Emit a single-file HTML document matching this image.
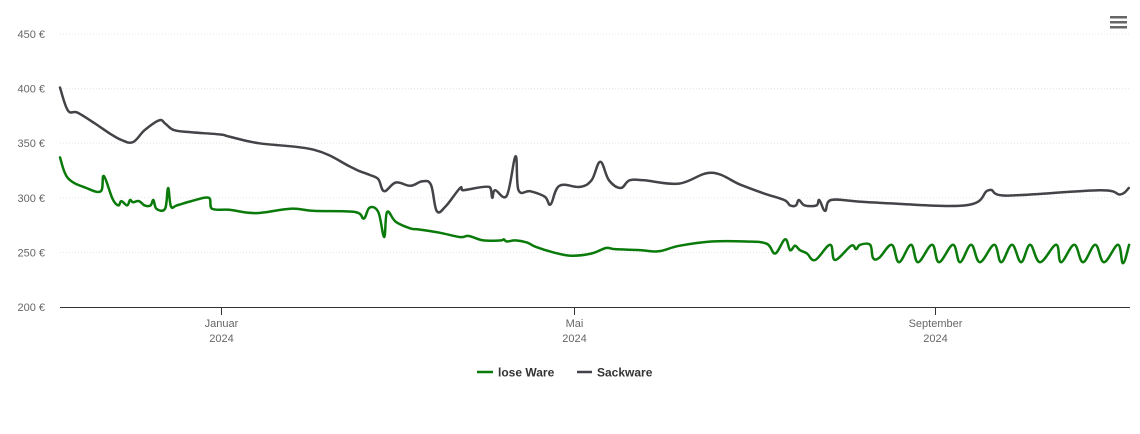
<!DOCTYPE html>
<html><head><meta charset="utf-8">
<style>
html,body{margin:0;padding:0;background:#fff;}
svg{display:block;font-family:"Liberation Sans",sans-serif;}
</style></head>
<body>
<svg id="chart" width="1140" height="434" viewBox="0 0 1140 434" xmlns="http://www.w3.org/2000/svg">
  <g id="grid"></g>
  <g id="yaxis"></g>
  <g id="xaxis"></g>
  <g id="series"></g>
  <g>
    <rect x="1110" y="16" width="17" height="2.5" fill="#666"/>
    <rect x="1110" y="21" width="17" height="2.5" fill="#666"/>
    <rect x="1110" y="26" width="17" height="2.5" fill="#666"/>
  </g>
  <g>
    <g>
      <line x1="477" y1="372" x2="493" y2="372" stroke="#0a7a0a" stroke-width="2.5"/>
      <text x="498" y="376.5" font-size="12" font-weight="bold" fill="#333">lose Ware</text>
    </g>
    <g>
      <line x1="577" y1="372" x2="592" y2="372" stroke="#434348" stroke-width="2.5"/>
      <text x="597" y="376.5" font-size="12" font-weight="bold" fill="#333">Sackware</text>
    </g>
  </g>
</svg>
<script>
// Days since start of chart (≈ 7 Nov 2023), values in €
const yTicks = [200, 250, 300, 350, 400, 450];
const xTickDays = [55.1, 176, 299.7];
const xTickLabels = ["Januar", "Mai", "September"];
const xTickYears = ["2024", "2024", "2024"];

const sackDays = [0,2.7,6,12,17,21,25,29,34,36,39,45,55,58,68,87,99,102,106,109,111,115,120,124,127,129,132,137,138,147,148,149,153,156,157,161,166,168,171,178,182,185,188,192,195,200,212,223,233,241,248,250,252,253,255,259,260,262,264,277,310,318,324,356,363,366];
const sackVals = [401,380,378,368,359,353,351,362,371,368,362,360,358,356,350,344,329,325,321,317,306,314,311,315,312,288,292,309,307,310,300,307,302,338,307,306,301,294,311,310,316,333,316,309,316,316,313,323,312,304,298,293,293,298,293,293,298,288,298,296,293,307,302,307,303,309];

const loseDays = [0,2.7,9,14,15,18,20,21,23,24,25,27,29,31,32,33,36,37,38,40,45,51,52,58,67,79,87,101,104,106,109,111,112,115,120,123,130,137,140,145,151,152,153,156,160,163,169,175,182,187,190,199,205,212,223,235,242,244.9,248.3,250,251.7,253.4,255.8,258.6,263.7,265.4,270.9,272.6,274,277.4,278.4,280.5,284.8,287.3,291.4,293.8,298.6,301,305.8,308.2,312,315,319.9,322.3,326,329.1,332.2,335.6,341.1,342.8,347.3,350.3,354.5,357.5,362.3,364,366.1];
const loseVals = [337,318,309,306,320,299,293,297,293,298,296,297,293,293,298,290,290,309,292,293,297,300,290,289,286,290,288,287,281,291,287,264,287,278,272,271,268,264,265,261,261,262,260,261,259,255,250,247,249,254,253,252,251,256,260,260,258,249,262,252,256,252,249,243,257,243,256,253,257,257,245,245,257,241,257,241,257,241,257,241,257,241,257,241,257,241,257,241,257,241,257,241,257,241,257,240,257];

const X0 = 60, X1 = 1130, DMAX = 366.4;
const Y0 = 307, Y1 = 34, VMIN = 200, VMAX = 450;
const xs = d => X0 + (d / DMAX) * (X1 - X0);
const ys = v => Y0 - (v - VMIN) / (VMAX - VMIN) * (Y0 - Y1);
const NS = "http://www.w3.org/2000/svg";
function mk(tag, attrs, parent) {
  const e = document.createElementNS(NS, tag);
  for (const k in attrs) e.setAttribute(k, attrs[k]);
  parent.appendChild(e);
  return e;
}
const grid = document.getElementById('grid');
const yaxis = document.getElementById('yaxis');
yTicks.forEach(v => {
  if (v !== VMIN) {
    const gl = mk('line', {x1: X0, x2: X1, y1: ys(v), y2: ys(v), stroke: '#e6e6e6', 'stroke-width': 1, 'stroke-dasharray': '1,2'}, grid);
    
    
  }
  const t = mk('text', {x: 45, y: ys(v) + 4, 'text-anchor': 'end', 'font-size': 11, fill: '#666'}, yaxis);
  
  
  t.textContent = v + ' €';
});
const xaxis = document.getElementById('xaxis');
const al = mk('line', {x1: X0, x2: X1, y1: Y0 + 0.5, y2: Y0 + 0.5, stroke: '#333', 'stroke-width': 1}, xaxis);


xTickDays.forEach((d, i) => {
  const x = Math.round(xs(d)) + 0.5;
  const tk = mk('line', {x1: x, x2: x, y1: Y0, y2: Y0 + 8, stroke: '#333', 'stroke-width': 1}, xaxis);
  
  
  const t = mk('text', {x: x, y: 327, 'text-anchor': 'middle', 'font-size': 11, fill: '#666'}, xaxis);
  
  
  t.textContent = xTickLabels[i];
  const t2 = mk('text', {x: x, y: 342, 'text-anchor': 'middle', 'font-size': 11, fill: '#666'}, xaxis);
  
  
  t2.textContent = xTickYears[i];
});
function pathFor(days, vals) {
  const p = days.map((d, i) => [xs(d), ys(vals[i])]);
  let s = 'M' + p[0][0].toFixed(1) + ',' + p[0][1].toFixed(1);
  const k = 0.18;
  for (let i = 0; i < p.length - 1; i++) {
    const a = p[i - 1] || p[i], b = p[i], c = p[i + 1], e = p[i + 2] || c;
    const c1 = [b[0] + (c[0] - a[0]) * k, b[1] + (c[1] - a[1]) * k];
    const c2 = [c[0] - (e[0] - b[0]) * k, c[1] - (e[1] - b[1]) * k];
    c1[0] = Math.min(Math.max(c1[0], b[0]), c[0]);
    c2[0] = Math.min(Math.max(c2[0], b[0]), c[0]);
    s += ' C' + c1[0].toFixed(1) + ',' + c1[1].toFixed(1) + ' ' + c2[0].toFixed(1) + ',' + c2[1].toFixed(1) + ' ' + c[0].toFixed(1) + ',' + c[1].toFixed(1);
  }
  return s;
}
const series = document.getElementById('series');
const l1 = mk('path', {d: pathFor(sackDays, sackVals), fill: 'none', stroke: '#434348', 'stroke-width': 2.5, 'stroke-linejoin': 'round', 'stroke-linecap': 'round'}, series);


const l2 = mk('path', {d: pathFor(loseDays, loseVals), fill: 'none', stroke: '#0a7a0a', 'stroke-width': 2.5, 'stroke-linejoin': 'round', 'stroke-linecap': 'round'}, series);


</script>
</body></html>
